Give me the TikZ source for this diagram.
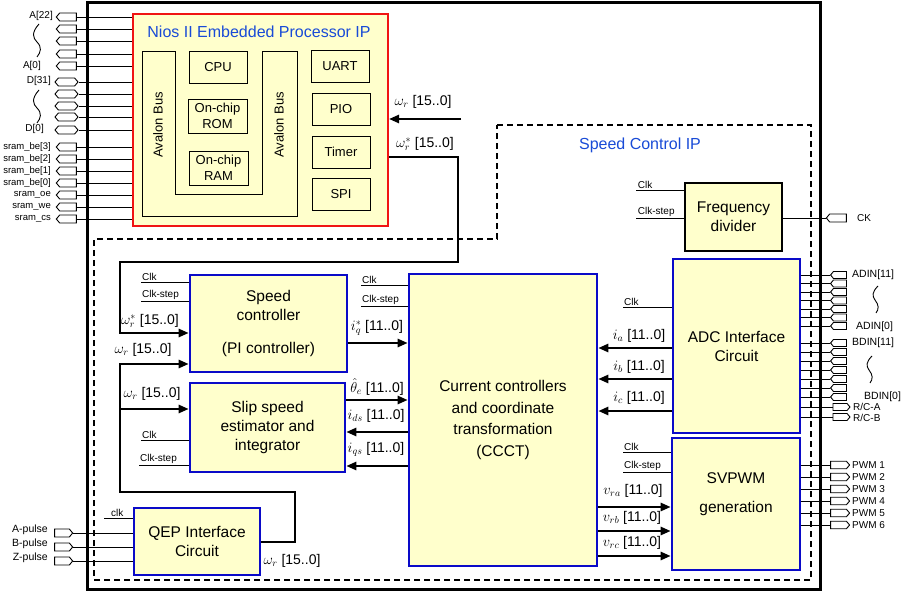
\documentclass[tikz,border=0pt]{standalone}
\usepackage{fontspec}
\setmainfont{Liberation Sans}
\usetikzlibrary{arrows.meta,shapes.symbols}
\definecolor{boxfill}{RGB}{255,255,204}
\definecolor{ipblue}{RGB}{25,75,215}
\definecolor{boxblue}{RGB}{10,10,200}
\definecolor{niosred}{RGB}{240,20,20}
\newcommand\fsz[2]{\fontsize{#1}{#2}\selectfont}
\tikzset{
  wire/.style={line width=0.9pt},
  boxn/.style={draw=black, line width=1.1pt, fill=boxfill, inner sep=0pt, align=center, font=\fsz{15.5}{19}},
  bboxn/.style={boxn, draw=boxblue, line width=2.6pt},
  smallbox/.style={draw=black, line width=0.9pt, inner sep=0pt, align=center, font=\fsz{13}{16}},
  bus/.style={line width=2.4pt, line join=miter, -{Triangle[length=10pt,width=8pt]}},
  buslbl/.style={font=\fsz{14}{16}, inner sep=0pt},
  clkl/.style={font=\fsz{10}{12}, anchor=south west, inner sep=1pt},
  pinlbl/.style={font=\fsz{10}{12}, inner sep=0pt},
  pinshape/.style={signal, draw, line width=0.9pt, fill=white, minimum height=8pt, inner sep=0pt, signal pointer angle=100},
  dashline/.style={line width=1.6pt, dash pattern=on 6pt off 4pt},
}
\begin{document}
\begin{tikzpicture}[x=1pt,y=-1pt]
\useasboundingbox (0,0) rectangle (904,591);
\fill[white] (0,0) rectangle (904,591);

% outer chip border and speed control IP region
\draw[line width=3pt] (87,3) rectangle (820,589);
\draw[dashline] (497,125) -- (811,125) -- (811,580) -- (94,580) -- (94,239) -- (497,239) -- cycle;
\node[font=\fsz{16}{18}, text=ipblue] (scip) at (640,145) {Speed Control IP};

% Nios II processor
\node[boxn, draw=niosred, line width=2pt, minimum width=255pt, minimum height=212pt] (nios) at (260.5,120) {};
\node[font=\fsz{16}{18}, text=ipblue] (niost) at (259,32) {Nios II Embedded Processor IP};
\draw[wire] (142,51) -- (175,51) -- (175,194) -- (262,194) -- (262,51) -- (297,51) -- (297,216) -- (142,216) -- cycle;
\node[rotate=90, font=\fsz{13}{15}] (av1) at (158,125) {Avalon Bus};
\node[rotate=90, font=\fsz{13}{15}] (av2) at (279,125) {Avalon Bus};
\node[smallbox, minimum width=58pt, minimum height=32pt] (cpu) at (218,67) {CPU};
\node[smallbox, minimum width=59pt, minimum height=34pt] (rom) at (217.5,116) {On-chip\\ROM};
\node[smallbox, minimum width=59pt, minimum height=34pt] (ram) at (218.5,168) {On-chip\\RAM};
\node[smallbox, minimum width=58pt, minimum height=32pt] (uart) at (340,66) {UART};
\node[smallbox, minimum width=58pt, minimum height=32pt] (pio) at (341,109) {PIO};
\node[smallbox, minimum width=58pt, minimum height=32pt] (timer) at (341,152) {Timer};
\node[smallbox, minimum width=58pt, minimum height=32pt] (spi) at (341,194) {SPI};

% functional blocks
\node[boxn, minimum width=97pt, minimum height=68pt] (freq) at (733.5,217) {Frequency\\divider};
\node[bboxn, minimum width=127pt, minimum height=174pt] (adc) at (736.5,346) {ADC Interface\\Circuit};
\node[bboxn, minimum width=128pt, minimum height=132pt] (svpwm) at (736,504) {SVPWM\\[10pt]generation\\[4pt]\mbox{}};
\node[bboxn, font=\fsz{15.5}{21.5}, minimum width=188pt, minimum height=292pt] (ccct) at (503,420) {Current controllers\\and coordinate\\transformation\\(CCCT)};
\node[bboxn, minimum width=157pt, minimum height=97pt] (speed) at (268.5,323.5) {Speed\\controller\\[14pt](PI controller)};
\node[bboxn, minimum width=155pt, minimum height=89pt] (slip) at (267.5,427.5) {Slip speed\\estimator and\\integrator};
\node[bboxn, minimum width=126pt, minimum height=67pt] (qep) at (197,541.5) {QEP Interface\\Circuit};

% left memory pins
\foreach \y [count=\i] in {17,29,41,54,66} {
  \node[pinshape, signal to=west, minimum width=20pt] (pa\i) at (68,\y) {};
  \draw[wire] (pa\i.east) -- (pa\i.east -| nios.west);
}
\foreach \y [count=\i] in {82,94,106,117,130} {
  \node[pinshape, signal to=east and west, minimum width=23pt] (pd\i) at (66.5,\y) {};
  \draw[wire] (pd\i.east) -- (pd\i.east -| nios.west);
}
\foreach \y [count=\i] in {147,159,171,183,195,207,219} {
  \node[pinshape, signal to=west, minimum width=20pt] (ps\i) at (68,\y) {};
  \draw[wire] (ps\i.east) -- (ps\i.east -| nios.west);
}
\node[pinlbl, anchor=east] (la22) at (53,16) {A[22]};
\node[pinlbl, anchor=east] (la0) at (41,66) {A[0]};
\node[pinlbl, anchor=east] (ld31) at (51,81) {D[31]};
\node[pinlbl, anchor=east] (ld0) at (44,129) {D[0]};
\draw[wire] (39,24) .. controls (31,33) and (33,38) .. (37,42) .. controls (42,47) and (41,52) .. (37,57);
\draw[wire] (39,90) .. controls (31,99) and (33,104) .. (37,108) .. controls (42,113) and (41,118) .. (37,123);
\foreach \t [count=\i] in {sram\_be[3],sram\_be[2],sram\_be[1],sram\_be[0],sram\_oe,sram\_we,sram\_cs} {
  \node[pinlbl, font=\fsz{9.5}{11}, anchor=east] (ls\i) at (51,135+12*\i) {\t};
}

% QEP pins
\foreach \y/\t [count=\i] in {533/A-pulse,547/B-pulse,561/Z-pulse} {
  \node[pinshape, signal to=east, minimum width=18pt] (pq\i) at (62,\y) {};
  \node[pinlbl, font=\fsz{10.5}{12}, anchor=east] (lq\i) at (48,\y-3) {\t};
  \draw[wire] (pq\i.east) -- (pq\i.east -| qep.west);
}

% CK pin
\node[pinshape, signal to=west, minimum width=20pt] (pck) at (838,218) {};
\node[pinlbl, anchor=west] (lck) at (857,218) {CK};
\draw[wire] (pck.west) -- (pck.west -| freq.east);

% ADC pins
\foreach \y [count=\i] in {275,283.5,292,300.5,309,317.5,326} {
  \node[pinshape, signal to=west, minimum width=16pt, minimum height=7pt] (pad\i) at (840,\y) {};
  \draw[wire] (pad\i.west) -- (pad\i.west -| adc.east);
}
\foreach \y [count=\i] in {343,352,361,370,379,388,397} {
  \node[pinshape, signal to=west, minimum width=16pt, minimum height=7pt] (pbd\i) at (840,\y) {};
  \draw[wire] (pbd\i.west) -- (pbd\i.west -| adc.east);
}
\foreach \y [count=\i] in {407,417} {
  \node[pinshape, signal to=east, minimum width=17pt, minimum height=7pt] (prc\i) at (840,\y) {};
  \draw[wire] (prc\i.west) -- (prc\i.west -| adc.east);
}
\node[pinlbl, font=\fsz{10.5}{12}, anchor=west] (lad11) at (852,275) {ADIN[11]};
\node[pinlbl, font=\fsz{10.5}{12}, anchor=west] (lad0) at (856,327) {ADIN[0]};
\node[pinlbl, font=\fsz{10.5}{12}, anchor=west] (lbd11) at (852,343) {BDIN[11]};
\node[pinlbl, font=\fsz{10.5}{12}, anchor=west] (lbd0) at (864,397) {BDIN[0]};
\node[pinlbl, anchor=west] (lrca) at (853,407) {R/C-A};
\node[pinlbl, anchor=west] (lrcb) at (853,418) {R/C-B};
\draw[wire] (878,286) .. controls (872,292) and (872,296) .. (875,300) .. controls (879,305) and (879,309) .. (876,313);
\draw[wire] (872,356) .. controls (866,362) and (866,366) .. (869,370) .. controls (873,375) and (873,379) .. (870,383);

% PWM pins
\foreach \k [count=\i] in {0,1,2,3,4,5} {
  \node[pinshape, signal to=east, minimum width=19pt, minimum height=7.5pt] (ppw\i) at (838.5,465+12*\k) {};
  \node[pinlbl, anchor=west] (lpw\i) at (852,465+12*\k) {PWM \i};
  \draw[wire] (ppw\i.west) -- (ppw\i.west -| svpwm.east);
}

% clock inputs
\draw[wire] (freq.west |- 0,190) -- ++(-48,0) node[clkl] (c1) {Clk};
\draw[wire] (freq.west |- 0,218) -- ++(-48,0) node[clkl] (c2) {Clk-step};
\draw[wire] (speed.west |- 0,282) -- ++(-48,0) node[clkl] (c3) {Clk};
\draw[wire] (speed.west |- 0,301) -- ++(-48,0) node[clkl] (c4) {Clk-step};
\draw[wire] (ccct.west |- 0,285) -- ++(-47,0) node[clkl] (c5) {Clk};
\draw[wire] (ccct.west |- 0,306) -- ++(-47,0) node[clkl] (c6) {Clk-step};
\draw[wire] (slip.west |- 0,440) -- ++(-48,0) node[clkl] (c7) {Clk};
\draw[wire] (slip.west |- 0,465) -- ++(-50,0) node[clkl] (c8) {Clk-step};
\draw[wire] (adc.west |- 0,307) -- ++(-49,0) node[clkl] (c9) {Clk};
\draw[wire] (svpwm.west |- 0,452) -- ++(-48,0) node[clkl] (c10) {Clk};
\draw[wire] (svpwm.west |- 0,472) -- ++(-48,0) node[clkl] (c11) {Clk-step};
\draw[wire] (qep.west |- 0,518) -- ++(-29,0) node[clkl, xshift=6pt] (c12) {clk};

% buses
\coordinate (wrin) at (461,119);
\draw[bus] (wrin) -- (wrin -| nios.east);
\node[buslbl] (l1) at (423,102) {$\omega_r$ [15..0]};
\draw[bus] (nios.east |- 0,157) -- (458,157) -- (458,262) -- (120,262) -- (120,333) -- (speed.west |- 0,333);
\node[buslbl] (l2) at (425,144) {$\omega_r^*$ [15..0]};
\node[buslbl] (l3) at (150,321) {$\omega_r^*$ [15..0]};
\draw[bus] (qep.east |- 0,542) -- (295,542) -- (295,492) -- (120,492) -- (120,364) -- (speed.west |- 0,364);
\coordinate (wbr) at (120,409);
\draw[bus] (wbr) -- (slip.west |- wbr);
\node[buslbl] (l4) at (143,350) {$\omega_r$ [15..0]};
\node[buslbl] (l5) at (152,394) {$\omega_r$ [15..0]};
\node[buslbl] (l6) at (292,561) {$\omega_r$ [15..0]};

\draw[bus] (speed.east |- 0,343) -- (ccct.west |- 0,343);
\node[buslbl] (l7) at (377,328) {$i_q^*$ [11..0]};
\draw[bus] (slip.east |- 0,400) -- (ccct.west |- 0,400);
\node[buslbl] (l8) at (377,387) {$\hat\theta_e$ [11..0]};
\draw[bus] (ccct.west |- 0,432) -- (slip.east |- 0,432);
\node[buslbl] (l9) at (376,416) {$i_{ds}$ [11..0]};
\draw[bus] (ccct.west |- 0,466) -- (slip.east |- 0,466);
\node[buslbl] (l10) at (376,449) {$i_{qs}$ [11..0]};

\draw[bus] (adc.west |- 0,348) -- (ccct.east |- 0,348);
\node[buslbl] (l11) at (639,336) {$i_a$ [11..0]};
\draw[bus] (adc.west |- 0,379) -- (ccct.east |- 0,379);
\node[buslbl] (l12) at (639,367) {$i_b$ [11..0]};
\draw[bus] (adc.west |- 0,411) -- (ccct.east |- 0,411);
\node[buslbl] (l13) at (639,398) {$i_c$ [11..0]};

\draw[bus] (ccct.east |- 0,507) -- (svpwm.west |- 0,507);
\node[buslbl] (l14) at (633,491) {$v_{ra}$ [11..0]};
\draw[bus] (ccct.east |- 0,531) -- (svpwm.west |- 0,531);
\node[buslbl] (l15) at (632,518) {$v_{rb}$ [11..0]};
\draw[bus] (ccct.east |- 0,556) -- (svpwm.west |- 0,556);
\node[buslbl] (l16) at (632,543) {$v_{rc}$ [11..0]};
\end{tikzpicture}
\end{document}
